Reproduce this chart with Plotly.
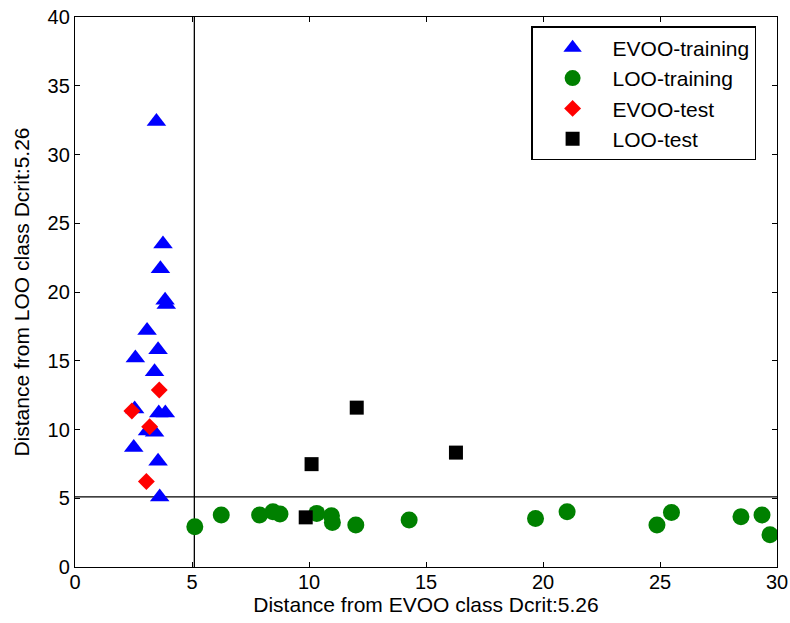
import plotly.graph_objects as go

# Distances of each sample from the two class models
evoo_train_x = [3.48, 3.76, 3.65, 3.85, 3.90, 3.08, 3.55, 2.58, 3.40, 2.55, 3.58, 3.86, 3.10, 3.40, 2.51, 3.55, 3.62]
evoo_train_y = [32.4, 23.5, 21.7, 19.4, 19.1, 17.2, 15.8, 15.2, 14.2, 11.5, 11.2, 11.2, 9.9, 9.8, 8.7, 7.7, 5.1]

loo_train_x = [5.12, 6.25, 7.89, 8.46, 8.76, 10.33, 10.96, 11.0, 12.0, 14.28, 19.68, 21.03, 24.87, 25.49, 28.46, 29.36, 29.70]
loo_train_y = [2.93, 3.78, 3.78, 4.02, 3.85, 3.90, 3.73, 3.24, 3.05, 3.41, 3.53, 4.02, 3.05, 3.97, 3.65, 3.78, 2.35]

evoo_test_x = [3.60, 2.43, 3.19, 3.05]
evoo_test_y = [12.87, 11.35, 10.2, 6.22]

loo_test_x = [12.04, 10.11, 16.28, 9.86]
loo_test_y = [11.59, 7.48, 8.32, 3.61]

dcrit_x = 5.1
dcrit_y = 5.1

x_ticks = [0, 5, 10, 15, 20, 25, 30]
y_ticks = [0, 5, 10, 15, 20, 25, 30, 35, 40]

FONT = "Liberation Sans, Arial, sans-serif"

fig = go.Figure()

fig.add_trace(go.Scatter(
    x=evoo_train_x, y=evoo_train_y, mode="markers", name="EVOO-training",
    marker=dict(symbol="triangle-up", size=17, color="#0000ff", line=dict(width=0)),
))
fig.add_trace(go.Scatter(
    x=loo_train_x, y=loo_train_y, mode="markers", name="LOO-training",
    marker=dict(symbol="circle", size=17, color="#008000", line=dict(width=0)),
))
fig.add_trace(go.Scatter(
    x=evoo_test_x, y=evoo_test_y, mode="markers", name="EVOO-test",
    marker=dict(symbol="diamond", size=13, color="#ff0000", line=dict(width=0)),
))
fig.add_trace(go.Scatter(
    x=loo_test_x, y=loo_test_y, mode="markers", name="LOO-test",
    marker=dict(symbol="square", size=14, color="#000000", line=dict(width=0)),
))

# Critical distance lines
fig.add_shape(type="line", x0=dcrit_x, x1=dcrit_x, y0=0, y1=1, xref="x", yref="paper",
              line=dict(color="black", width=1.3), layer="below")
fig.add_shape(type="line", x0=0, x1=1, y0=dcrit_y, y1=dcrit_y, xref="paper", yref="y",
              line=dict(color="black", width=1.3), layer="below")

axis_common = dict(
    showgrid=False, zeroline=False, showline=True, linecolor="black", linewidth=1.3,
    mirror="ticks", ticks="inside", ticklen=5, tickcolor="black", tickwidth=1,
    tickfont=dict(family=FONT, size=20, color="black"), automargin=False,
)

fig.update_layout(
    width=790, height=623,
    margin=dict(l=75, r=13, t=17, b=56),
    paper_bgcolor="white", plot_bgcolor="white",
    font=dict(family=FONT, color="black"),
    xaxis=dict(range=[0, 30], tickvals=x_ticks, ticktext=[str(v) for v in x_ticks],
               title=dict(text="Distance from EVOO class Dcrit:5.26", font=dict(family=FONT, size=21), standoff=4),
               ticklabelstandoff=-3, **axis_common),
    yaxis=dict(range=[0, 40], tickvals=y_ticks, ticktext=[str(v) for v in y_ticks],
               title=dict(text="Distance from LOO class Dcrit:5.26", font=dict(family=FONT, size=21), standoff=12),
               **axis_common),
    legend=dict(
        x=0.65, y=0.983, xanchor="left", yanchor="top",
        bgcolor="white", bordercolor="black", borderwidth=1.3,
        font=dict(family=FONT, size=21, color="black"),
        itemsizing="trace", tracegroupgap=0, itemwidth=70,
        entrywidth=200, entrywidthmode="pixels",
    ),
    showlegend=True,
)

fig.write_html("out.html")
